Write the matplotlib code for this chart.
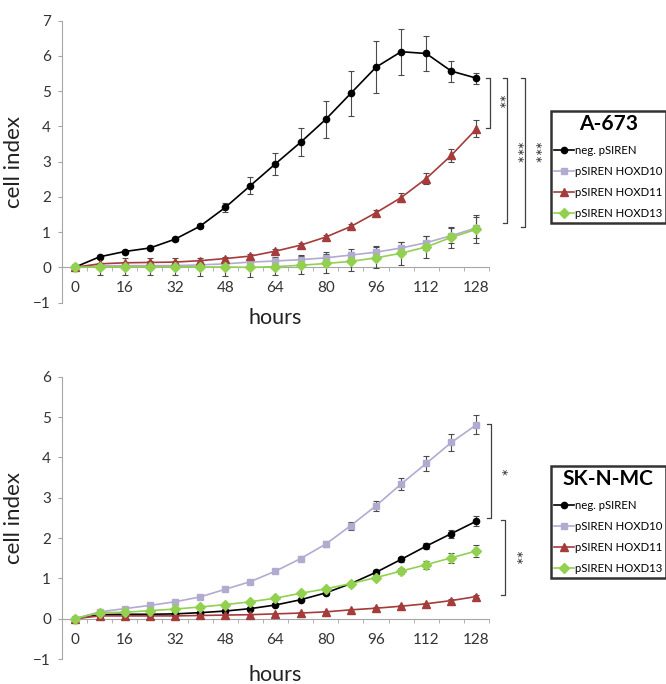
import matplotlib

matplotlib.use("Agg")

import matplotlib.pyplot as plt

plt.rcParams["font.family"] = ["Lato", "DejaVu Sans"]

# shared x values (hours) and series styling
hours = [0, 8, 16, 24, 32, 40, 48, 56, 64, 72, 80, 88, 96, 104, 112, 120, 128]
series_labels = ["neg. pSIREN", "pSIREN HOXD10", "pSIREN HOXD11", "pSIREN HOXD13"]

# A-673 panel
a673_neg = [0, 0.30, 0.45, 0.55, 0.80, 1.17, 1.70, 2.32, 2.94, 3.55, 4.20, 4.94, 5.68, 6.12, 6.07, 5.57, 5.37]
a673_neg_err = [0, 0.04, 0.04, 0.04, 0.04, 0.05, 0.12, 0.24, 0.32, 0.40, 0.52, 0.63, 0.74, 0.65, 0.50, 0.30, 0.16]
a673_d10 = [0, 0.04, 0.05, 0.05, 0.05, 0.07, 0.10, 0.15, 0.18, 0.22, 0.27, 0.35, 0.43, 0.55, 0.70, 0.90, 1.12]
a673_d10_err = [0, 0.05, 0.05, 0.05, 0.05, 0.06, 0.07, 0.09, 0.12, 0.14, 0.16, 0.17, 0.18, 0.18, 0.20, 0.22, 0.30]
a673_d11 = [0, 0.10, 0.13, 0.14, 0.15, 0.19, 0.25, 0.32, 0.46, 0.63, 0.86, 1.16, 1.55, 1.98, 2.52, 3.18, 3.93]
a673_d11_err = [0, 0.03, 0.03, 0.03, 0.03, 0.03, 0.04, 0.05, 0.05, 0.06, 0.06, 0.07, 0.08, 0.12, 0.15, 0.18, 0.24]
a673_d13 = [0, 0.02, 0.02, 0.02, 0.02, 0.01, 0.01, 0.0, 0.02, 0.06, 0.11, 0.17, 0.27, 0.40, 0.58, 0.85, 1.08]
a673_d13_err = [0, 0.25, 0.25, 0.25, 0.25, 0.25, 0.25, 0.28, 0.25, 0.25, 0.27, 0.28, 0.30, 0.32, 0.30, 0.30, 0.40]

# SK-N-MC panel
sknmc_neg = [0, 0.10, 0.11, 0.11, 0.12, 0.15, 0.19, 0.25, 0.34, 0.47, 0.64, 0.87, 1.15, 1.47, 1.80, 2.11, 2.42]
sknmc_neg_err = [0, 0.02, 0.02, 0.02, 0.02, 0.02, 0.02, 0.03, 0.03, 0.04, 0.04, 0.04, 0.05, 0.06, 0.08, 0.10, 0.13]
sknmc_d10 = [0, 0.17, 0.25, 0.33, 0.42, 0.54, 0.73, 0.92, 1.18, 1.49, 1.85, 2.31, 2.80, 3.34, 3.85, 4.37, 4.81]
sknmc_d10_err = [0, 0.02, 0.02, 0.03, 0.03, 0.03, 0.04, 0.04, 0.05, 0.06, 0.08, 0.10, 0.12, 0.16, 0.18, 0.22, 0.24]
sknmc_d11 = [0, 0.07, 0.07, 0.07, 0.07, 0.08, 0.09, 0.10, 0.12, 0.14, 0.17, 0.22, 0.26, 0.31, 0.37, 0.45, 0.55]
sknmc_d11_err = [0, 0.01, 0.01, 0.01, 0.01, 0.01, 0.01, 0.01, 0.02, 0.02, 0.02, 0.02, 0.02, 0.02, 0.02, 0.03, 0.03]
sknmc_d13 = [0, 0.15, 0.16, 0.20, 0.24, 0.29, 0.35, 0.42, 0.51, 0.63, 0.74, 0.87, 1.02, 1.18, 1.34, 1.51, 1.68]
sknmc_d13_err = [0, 0.02, 0.02, 0.02, 0.02, 0.02, 0.03, 0.03, 0.03, 0.04, 0.04, 0.05, 0.06, 0.08, 0.10, 0.12, 0.15]

COLORS = ["#000000", "#b3aad0", "#a53b3b", "#92d050"]
MARKERS = ["o", "s", "^", "D"]
MSIZES = [4.5, 4.8, 6.0, 4.6]
AXIS_GRAY = "#a6a6a6"
TEXT_GRAY = "#333333"


def draw_bracket(ax, x, y_top, y_bot, stars, star_x, star_y):
    tick = 1.3
    ax.plot([x - tick, x, x, x - tick], [y_top, y_top, y_bot, y_bot],
            color="#404040", lw=0.9, clip_on=False)
    ax.text(star_x, star_y, stars, rotation=270, ha="center", va="center",
            fontsize=13, color="#333333", clip_on=False)


def draw_panel(ax, values, errors, ymin, ymax, title, legend_anchor, fig):
    for vals, errs, col in zip(values, errors, COLORS):
        ax.errorbar(hours, vals, yerr=errs, fmt="none", ecolor="#4a4a4a",
                    elinewidth=0.8, capsize=2.2, capthick=0.8, clip_on=False, zorder=3)
    handles = []
    for vals, col, mk, ms, lab in zip(values, COLORS, MARKERS, MSIZES, series_labels):
        (ln,) = ax.plot(hours, vals, color=col, marker=mk, ms=ms, lw=1.2,
                        label=lab, clip_on=False, zorder=4)
        handles.append(ln)

    ax.set_xlim(-4, 132)
    ax.set_ylim(ymin, ymax)
    for side in ("top", "right"):
        ax.spines[side].set_visible(False)
    ax.spines["bottom"].set_position(("data", 0))
    ax.spines["bottom"].set_color(AXIS_GRAY)
    ax.spines["left"].set_color(AXIS_GRAY)

    ax.set_xticks(range(0, 129, 16))
    ax.set_xticks(range(-4, 133, 8), minor=True)
    ax.set_yticks(range(ymin, ymax + 1))
    ax.tick_params(axis="x", which="major", length=0, pad=10, labelsize=11, labelcolor=TEXT_GRAY)
    ax.tick_params(axis="x", which="minor", length=3, color=AXIS_GRAY, direction="out")
    ax.tick_params(axis="y", length=3, color=AXIS_GRAY, pad=5, labelsize=11, labelcolor=TEXT_GRAY)

    ax.set_xlabel("hours", fontsize=15.5, color="#222222")
    ax.xaxis.set_label_coords(0.5, -0.02)
    ax.set_ylabel("cell index", fontsize=16, color="#222222")
    ax.yaxis.set_label_coords(-0.09, 0.5)

    leg = ax.legend(handles=handles, loc="upper left", bbox_to_anchor=legend_anchor,
                    bbox_transform=fig.transFigure, title=title, fontsize=8.2,
                    title_fontproperties={"weight": "bold", "size": 15},
                    frameon=True, fancybox=False, edgecolor="black",
                    handlelength=1.7, handletextpad=0.1, labelspacing=0.9,
                    borderpad=0.3, borderaxespad=0)
    leg.get_frame().set_linewidth(1.8)
    leg.set_clip_on(False)


fig = plt.figure(figsize=(6.66, 6.84), dpi=100)
ax_top = fig.add_axes([0.0931, 0.5576, 0.6411, 0.4121])
ax_bot = fig.add_axes([0.0931, 0.0365, 0.6411, 0.4127])

draw_panel(ax_top,
           [a673_neg, a673_d10, a673_d11, a673_d13],
           [a673_neg_err, a673_d10_err, a673_d11_err, a673_d13_err],
           -1, 7, "A-673", (551 / 666, 1 - 111 / 684), fig)
draw_bracket(ax_top, 132.2, 5.37, 3.95, "**", 134.2, 4.67)
draw_bracket(ax_top, 137.8, 5.37, 1.25, "***", 139.9, 3.25)
draw_bracket(ax_top, 143.6, 5.37, 1.15, "***", 145.6, 3.25)

draw_panel(ax_bot,
           [sknmc_neg, sknmc_d10, sknmc_d11, sknmc_d13],
           [sknmc_neg_err, sknmc_d10_err, sknmc_d11_err, sknmc_d13_err],
           -1, 6, "SK-N-MC", (551 / 666, 1 - 466 / 684), fig)
draw_bracket(ax_bot, 132.7, 4.84, 2.50, "*", 134.8, 3.61)
draw_bracket(ax_bot, 137.1, 2.46, 0.60, "**", 139.6, 1.50)

fig.savefig("out.png", dpi=100)
plt.close(fig)
